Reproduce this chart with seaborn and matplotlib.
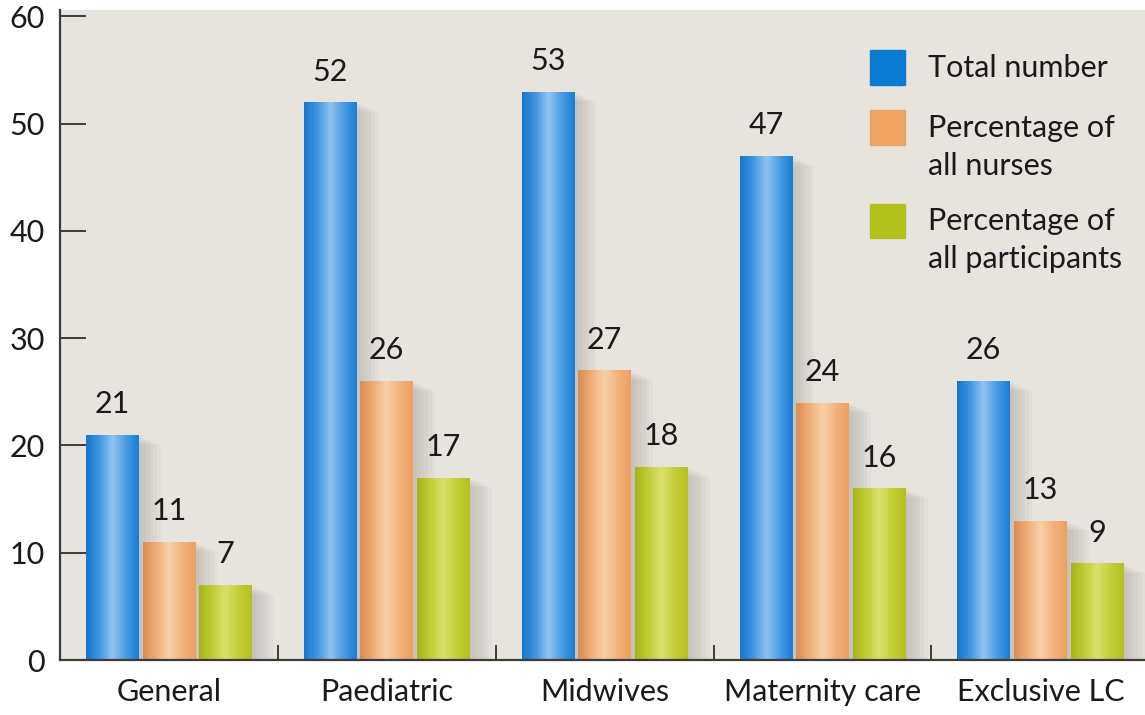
import numpy as np
import pandas as pd
import matplotlib.pyplot as plt
import matplotlib.patches as mpatches
from matplotlib.colors import LinearSegmentedColormap
import seaborn as sns

# Chart values
categories = ['General', 'Paediatric', 'Midwives', 'Maternity care', 'Exclusive LC']
total_number = [21, 52, 53, 47, 26]
pct_nurses = [11, 26, 27, 24, 13]
pct_participants = [7, 17, 18, 16, 9]
series_names = ['Total number', 'Percentage of\nall nurses', 'Percentage of\nall participants']

df = pd.DataFrame({
    'category': categories * 3,
    'series': [series_names[0]] * 5 + [series_names[1]] * 5 + [series_names[2]] * 5,
    'value': total_number + pct_nurses + pct_participants,
})

# flat colours (legend) and cylinder shading (edge, mid, highlight)
flat = ['#0a7bd2', '#f0a262', '#b2c01c']
shades = [
    ['#1676cc', '#3f95e0', '#92c3f0', '#4a9ce2', '#167ed6'],
    ['#d98c52', '#eeae78', '#f8d0a8', '#f2b27c', '#eea060'],
    ['#a6b418', '#c2cc34', '#d8e26c', '#c4ce38', '#b4c020'],
]

sns.set_theme(style='white')
plt.rcParams['font.family'] = ['Lato', 'DejaVu Sans']
txt_col = '#1a1a1a'

fig = plt.figure(figsize=(11.45, 7.15), dpi=100)
fig.patch.set_facecolor('white')
ax = fig.add_axes([60 / 1145, 55 / 715, 1085 / 1145, 650 / 715])
ax.set_facecolor('#e7e4de')

sns.barplot(data=df, x='category', y='value', hue='series', order=categories,
            hue_order=series_names, palette=flat, width=0.78, gap=0.07,
            saturation=1, edgecolor='none', linewidth=0, ax=ax, legend=False)

ax.set_xlim(-0.5, 4.48)
ax.set_ylim(0, 60.6)

# soft shadows and gradient shading on each bar
for i, c in enumerate(ax.containers):
    cmap = LinearSegmentedColormap.from_list('cyl%d' % i, shades[i])
    grad = np.linspace(0, 1, 256).reshape(1, -1)
    for bar in c:
        x0, w, h = bar.get_x(), bar.get_width(), bar.get_height()
        for k in range(1, 7):
            ax.add_patch(mpatches.Rectangle((x0 + w * 0.02 * k, 0), w + w * 0.05 * k, h - 0.15 * k,
                                            color='#5a5550', alpha=0.04, lw=0, zorder=1.5))
        im = ax.imshow(grad, cmap=cmap, aspect='auto', extent=(x0, x0 + w, 0, h),
                       zorder=2.5, interpolation='bicubic')
        im.set_clip_path(bar)
        bar.set_zorder(2.4)
        ax.annotate(f'{int(h)}', (x0 + w / 2, h), xytext=(0, 12), textcoords='offset points',
                    ha='center', va='bottom', fontsize=22, color=txt_col, zorder=4)

ax.set_xlim(-0.5, 4.48)
ax.set_ylim(0, 60.6)

# axes styling
for s in ['top', 'right']:
    ax.spines[s].set_visible(False)
for s in ['left', 'bottom']:
    ax.spines[s].set_color('#3c3c3c')
    ax.spines[s].set_linewidth(1.6)
    ax.spines[s].set_zorder(5)

ax.set_yticks(range(0, 61, 10))
ax.tick_params(axis='y', direction='in', length=19, width=1.4, color='#3c3c3c',
               pad=11, labelsize=22, labelcolor=txt_col, left=True)
ax.set_xticks(range(len(categories)))
ax.set_xticklabels(categories)
ax.set_xticks([0.5, 1.5, 2.5, 3.5], minor=True)
ax.tick_params(axis='x', which='major', length=0, pad=13, labelsize=22, labelcolor=txt_col)
ax.tick_params(axis='x', which='minor', direction='in', length=11, width=1.4,
               color='#3c3c3c', bottom=True)
ax.set_xlabel('')
ax.set_ylabel('')

# legend: square aligned with first text line
leg_x, sq_w, sq_h = 0.7465, 0.0323, 0.0538
txt_x = 0.80
first_line_y = [0.9108, 0.8185, 0.6754]
line_gap = 0.0585
for col, name, y in zip(flat, series_names, first_line_y):
    ax.add_patch(mpatches.Rectangle((leg_x, y - sq_h / 2), sq_w, sq_h, color=col,
                                    transform=ax.transAxes, zorder=6, clip_on=False))
    for j, line in enumerate(name.split('\n')):
        ax.text(txt_x, y - j * line_gap, line, transform=ax.transAxes, ha='left',
                va='center', fontsize=22, color=txt_col, zorder=6)

fig.savefig('out.png', dpi=100, facecolor='white')
